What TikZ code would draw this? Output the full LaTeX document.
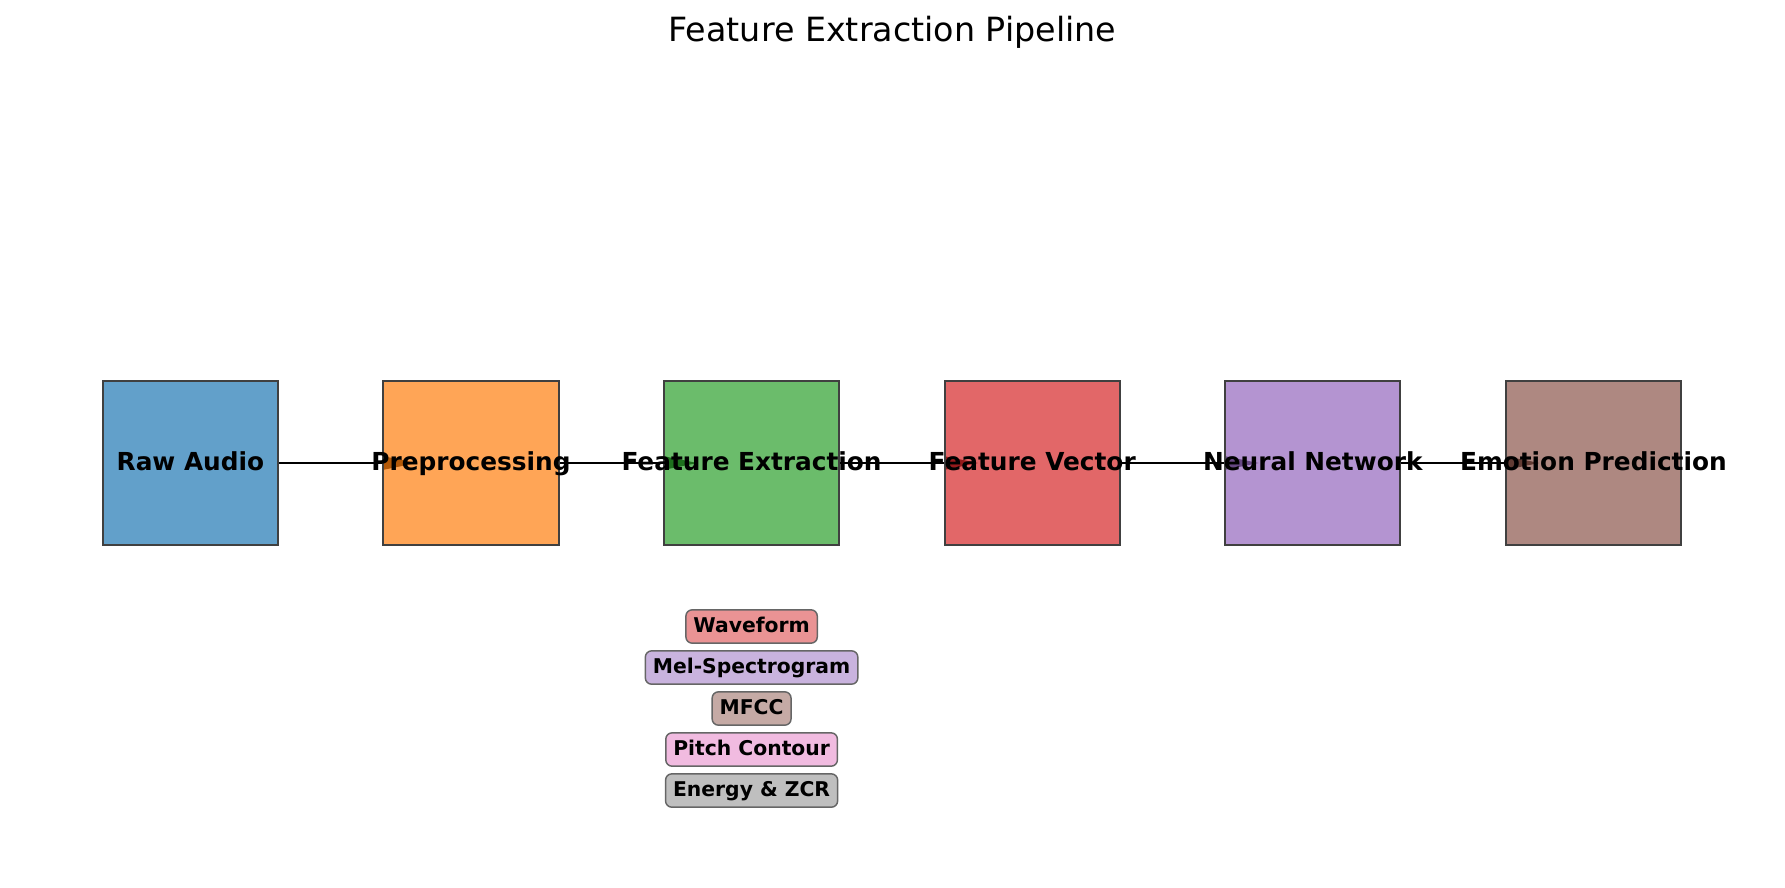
\documentclass[tikz,border=0pt]{standalone}
\usepackage{fontspec}
\setmainfont{DejaVu Sans}
\usepackage{tikz}
\usetikzlibrary{arrows.meta,calc,backgrounds}
\definecolor{tabblue}{RGB}{31,119,180}
\definecolor{taborange}{RGB}{255,127,14}
\definecolor{tabgreen}{RGB}{44,160,44}
\definecolor{tabred}{RGB}{214,39,40}
\definecolor{tabpurple}{RGB}{148,103,189}
\definecolor{tabbrown}{RGB}{140,86,75}
\definecolor{lightred}{RGB}{234,147,148}
\definecolor{lightpurple}{RGB}{201,179,222}
\definecolor{lightbrown}{RGB}{197,170,165}
\definecolor{lightpink}{RGB}{241,187,224}
\definecolor{lightgray}{RGB}{191,191,191}

\begin{document}
\begin{tikzpicture}
      [x = 0.48pt, y = -0.48pt,
      flow/.style={-{Triangle[length=16pt, width=6pt]}, line width = 1.3pt},
      stage/.style= {
         draw = black!75,
         line width = 1pt,
         fill opacity = 0.7,
         rectangle,
         inner sep = 0pt,
         minimum width = 84.1pt,
         minimum height = 78.7pt
      },
      stagetext/.style= {
         font = \fontsize{11.9}{14}\selectfont\bfseries,
         text height = 0.86em,
         text depth = 0.1em,
         inner sep = 0pt
      },
      feature/.style= {
         draw = black!60,
         line width = 0.7pt,
         rounded corners = 3pt,
         font = \fontsize{9.75}{12}\selectfont\bfseries,
         text height = 0.76em,
         text depth = 0.2em,
         inner xsep = 3.6pt,
         inner ysep = 3.2pt
      }]

      \useasboundingbox (0, 0) rectangle (1785, 887);

      \node[anchor = base, font = \fontsize{16}{19}\selectfont] (title) at (892.5, 41) {Feature Extraction Pipeline};

      \node[stage, fill = tabblue] (raw) at (190.4, 463) {};
      \node[stage, fill = taborange] (prep) at (471, 463) {};
      \node[stage, fill = tabgreen] (extract) at (751.6, 463) {};
      \node[stage, fill = tabred] (vector) at (1032.2, 463) {};
      \node[stage, fill = tabpurple] (network) at (1312.8, 463) {};
      \node[stage, fill = tabbrown] (emotion) at (1593.4, 463) {};

      \begin{scope}[on background layer]
      \draw [flow] (raw.east) -- ($(prep.west) + (35, 0)$);
      \draw [flow] (prep.east) -- ($(extract.west) + (35, 0)$);
      \draw [flow] (extract.east) -- ($(vector.west) + (35, 0)$);
      \draw [flow] (vector.east) -- ($(network.west) + (35, 0)$);
      \draw [flow] (network.east) -- ($(emotion.west) + (35, 0)$);
      \end{scope}

      \node[stagetext] (rawtext) at (raw) {Raw Audio};
      \node[stagetext] (preptext) at (prep) {Preprocessing};
      \node[stagetext] (extracttext) at (extract) {Feature Extraction};
      \node[stagetext] (vectortext) at (vector) {Feature Vector};
      \node[stagetext] (networktext) at (network) {Neural Network};
      \node[stagetext] (emotiontext) at (emotion) {Emotion Prediction};

      % features below the extraction stage
      \node[feature, fill = lightred] (waveform) at (751.6, 626.5) {Waveform};
      \node[feature, fill = lightpurple] (mel) at (751.6, 667.5) {Mel-Spectrogram};
      \node[feature, fill = lightbrown] (mfcc) at (751.6, 708.5) {MFCC};
      \node[feature, fill = lightpink] (pitch) at (751.6, 749.5) {Pitch Contour};
      \node[feature, fill = lightgray] (energy) at (751.6, 790.5) {Energy \& ZCR};

   \end{tikzpicture}
\end{document}
